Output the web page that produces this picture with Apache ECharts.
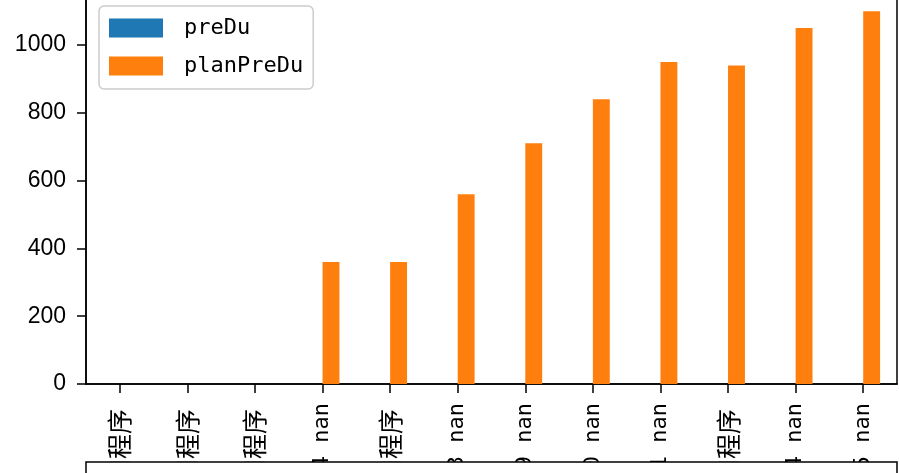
<!DOCTYPE html>
<html>
<head>
<meta charset="utf-8">
<script src="https://cdn.jsdelivr.net/npm/echarts@6/dist/echarts.min.js"></script>
<style>
html,body{margin:0;padding:0;background:#fff;}
#c{width:899px;height:473px;}
</style>
</head>
<body>
<div id="c"></div>
<script>
const categories = ["应用程序", "应用程序", "应用程序", "2024 nan", "应用程序", "2023 nan", "2019 nan", "2020 nan", "2021 nan", "应用程序", "2024 nan", "2025 nan"];
const preDu = [null, null, null, null, null, null, null, null, null, null, null, null];
const planPreDu = [0, 0, 0, 360, 360, 560, 710, 840, 950, 940, 1050, 1100];
const yTicks = [0, 200, 400, 600, 800, 1000];

const FONT = '"DejaVu Sans Mono", "Noto Sans CJK SC", monospace';
const chart = echarts.init(document.getElementById('c'), null, {renderer: 'canvas'});
chart.setOption({
  animation: false,
  backgroundColor: '#fff',
  textStyle: {fontFamily: FONT},
  grid: [
    {left: 86, right: 2, top: -7.5, bottom: 89, outerBoundsMode: 'none', containLabel: false, show: true, borderColor: '#000', borderWidth: 1.5, backgroundColor: 'transparent', z: 1},
    {left: 86, right: 2, top: 462, bottom: -100, outerBoundsMode: 'none', containLabel: false, show: true, borderColor: '#000', borderWidth: 1.5, backgroundColor: '#fff', z: 10}
  ],
  legend: {
    orient: 'vertical',
    left: 99,
    top: 6,
    padding: [11, 10, 12, 10],
    itemWidth: 54,
    itemHeight: 19,
    itemGap: 16,
    icon: 'rect',
    borderColor: '#cccccc',
    borderWidth: 1.5,
    borderRadius: 5,
    backgroundColor: 'rgba(255,255,255,0.8)',
    textStyle: {fontFamily: FONT, fontSize: 22, color: '#000', padding: [0, 0, 0, 16]},
    data: ['preDu', 'planPreDu']
  },
  xAxis: [
    {
      type: 'category', gridIndex: 0, data: categories, z: 0,
      axisLine: {lineStyle: {color: '#000', width: 1.5}},
      axisTick: {show: true, alignWithLabel: true, length: 9, lineStyle: {color: '#000', width: 1.5}},
      axisLabel: {
        interval: 0, rotate: 90, margin: 19, fontSize: 22, color: '#000', fontFamily: FONT,
        formatter: v => /nan/.test(v) ? v : '{c|' + v + '}',
        rich: {c: {fontSize: 25, fontFamily: '"Noto Sans CJK SC"', color: '#000', padding: [0, 6, 0, 0]}}
      }
    },
    {type: 'category', gridIndex: 1, data: categories, show: false}
  ],
  yAxis: [
    {
      type: 'value', gridIndex: 0, min: 0, max: 1155, interval: 200, z: 0,
      axisLine: {show: true, lineStyle: {color: '#000', width: 1.5}},
      axisTick: {show: true, length: 9, lineStyle: {color: '#000', width: 1.5}},
      axisLabel: {showMaxLabel: false, margin: 20, fontSize: 23, color: '#000', fontFamily: '"Liberation Sans", Arial, sans-serif',
        formatter: v => yTicks.indexOf(v) >= 0 ? String(v) : ''},
      splitLine: {show: false}
    },
    {type: 'value', gridIndex: 1, show: false, splitLine: {show: false}}
  ],
  series: [
    {name: 'preDu', type: 'bar', xAxisIndex: 0, yAxisIndex: 0, data: preDu, barWidth: '25%', barGap: '0%', itemStyle: {color: '#1f77b4'}},
    {name: 'planPreDu', type: 'bar', xAxisIndex: 0, yAxisIndex: 0, data: planPreDu, barWidth: '25%', barGap: '0%', itemStyle: {color: '#ff7f0e'}}
  ]
});
</script>
</body>
</html>
